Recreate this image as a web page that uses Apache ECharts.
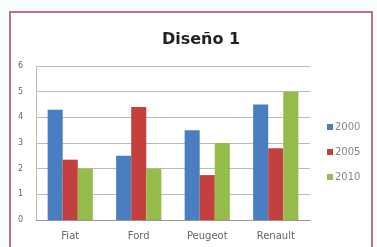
<!DOCTYPE html>
<html><head><meta charset="utf-8">
<script src="https://cdn.jsdelivr.net/npm/echarts@6/dist/echarts.min.js"></script>
<style>html,body{margin:0;padding:0;background:#f7fdfd}#c{width:377px;height:247px}</style>
</head><body><div id="c"></div>
<script>
var categories = ["Fiat", "Ford", "Peugeot", "Renault"];
var seriesNames = ["2000", "2005", "2010"];
var values2000 = [4.3, 2.5, 3.5, 4.5];
var values2005 = [2.35, 4.4, 1.75, 2.8];
var values2010 = [2.0, 2.0, 3.0, 5.0];
var yTicks = [0, 1, 2, 3, 4, 5, 6];
var colors = ["#4a7ec2", "#c4403e", "#95bc4a"];
var chart = echarts.init(document.getElementById('c'));
var data = [values2000, values2005, values2010];
chart.setOption({
  animation: false,
  backgroundColor: '#f7fdfd',
  graphic: [{
    type: 'rect', shape: {x: 10, y: 12, width: 362, height: 250},
    style: {fill: '#ffffff', stroke: '#b87585', lineWidth: 2}, z: -10
  }],
  title: {text: 'Diseño 1', left: 196, top: 27, textAlign: 'center',
    textStyle: {fontFamily: 'DejaVu Sans', fontSize: 16, fontWeight: 'bold', color: '#222'}},
  legend: {orient: 'vertical', left: 322, top: 117, itemGap: 15, itemWidth: 6, itemHeight: 6,
    icon: 'rect', textStyle: {fontFamily: 'DejaVu Sans', fontSize: 10, color: '#888', padding: [0,0,0,-3]},
    data: seriesNames},
  grid: {left: 36, right: 67, top: 66, bottom: 27, containLabel: false},
  xAxis: {type: 'category', data: categories,
    axisLine: {lineStyle: {color: '#999'}}, axisTick: {show: false},
    axisLabel: {fontFamily: 'DejaVu Sans', fontSize: 10, color: '#666', margin: 11}},
  yAxis: {type: 'value', min: 0, max: 6, interval: 1,
    axisLine: {show: true, lineStyle: {color: '#bbb'}}, axisTick: {show: false},
    splitLine: {lineStyle: {color: '#bbb'}},
    axisLabel: {fontFamily: 'DejaVu Sans', fontSize: 8, color: '#666', margin: 13,
      formatter: function(v){ return yTicks.indexOf(v) >= 0 ? String(v) : ''; }}},
  series: seriesNames.map(function(n, i){
    return {name: n, type: 'bar', data: data[i], barGap: '0%', barCategoryGap: '34%',
      itemStyle: {color: colors[i]}};
  })
});
</script></body></html>
